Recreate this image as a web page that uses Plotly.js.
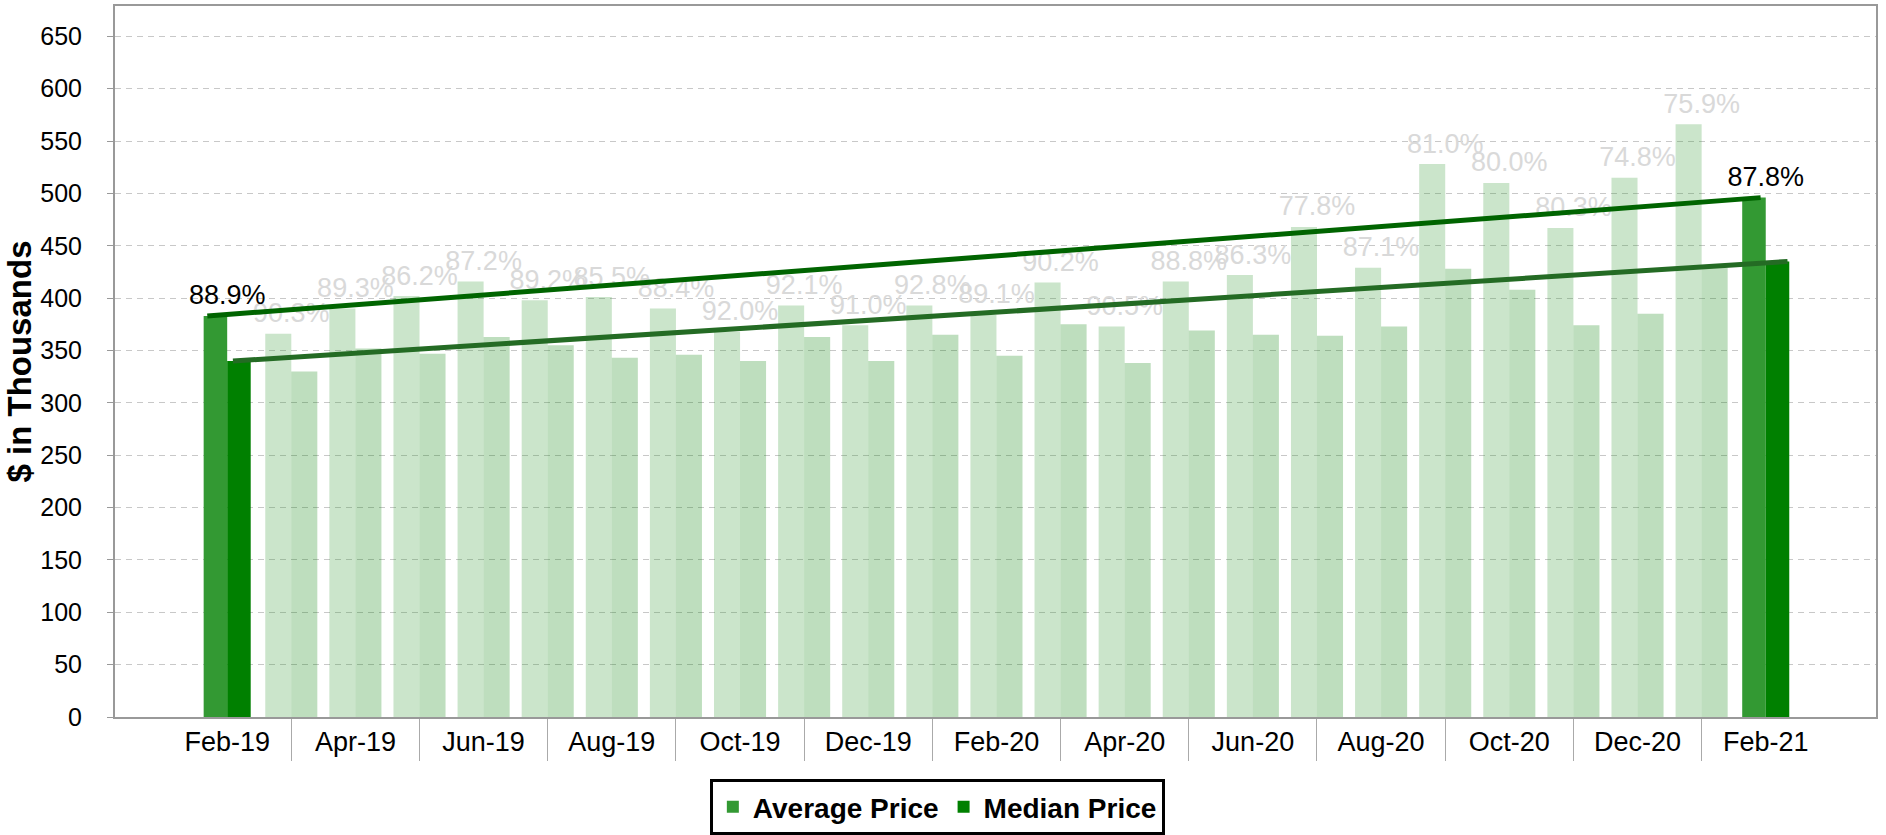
<!DOCTYPE html>
<html><head><meta charset="utf-8">
<script src="https://cdn.plot.ly/plotly-3.0.1.min.js"></script>
<style>html,body{margin:0;padding:0;background:#fff}#chart{width:1886px;height:835px}</style>
</head><body><div id="chart"></div>
<script>
const months = ['Feb-19','Mar-19','Apr-19','May-19','Jun-19','Jul-19','Aug-19','Sep-19','Oct-19','Nov-19','Dec-19','Jan-20',
  'Feb-20','Mar-20','Apr-20','May-20','Jun-20','Jul-20','Aug-20','Sep-20','Oct-20','Nov-20','Dec-20','Jan-21','Feb-21'];
const averagePrice = [383,366,390,402,416,398,401,390,368,393,374,393,384,415,373,416,422,468,429,528,510,467,515,566,496];
const medianPrice  = [340,330,352,347,363,355,343,346,340,363,340,365,345,375,338,369,365,364,373,428,408,374,385,429,435];
const ratioLabels  = ['88.9%','90.3%','89.3%','86.2%','87.2%','89.2%','85.5%','88.4%','92.0%','92.1%','91.0%','92.8%',
  '89.1%','90.2%','90.5%','88.8%','86.3%','77.8%','87.1%','81.0%','80.0%','80.3%','74.8%','75.9%','87.8%'];
const yTicks = [0,50,100,150,200,250,300,350,400,450,500,550,600,650];
const yTitle = '$ in Thousands';

const FONT = 'Liberation Sans, Arial, sans-serif';
const n = months.length;
const idx = months.map((m,i)=>i);
const hi = [0, n-1];
const lo = idx.filter(i => !hi.includes(i));
const pick = (arr, ids) => ids.map(i => arr[i]);

const wHi = 0.367, wLo = 0.406;
const traces = [
  {type:'bar', x:hi, y:pick(averagePrice,hi), name:'Average Price', width:wHi, offset:-wHi,
   marker:{color:'#339933'}, hoverinfo:'skip'},
  {type:'bar', x:hi, y:pick(medianPrice,hi), name:'Median Price', width:wHi, offset:0,
   marker:{color:'#008000'}, hoverinfo:'skip'},
  {type:'bar', x:lo, y:pick(averagePrice,lo), width:wLo, offset:-wLo, showlegend:false,
   marker:{color:'#339933'}, opacity:0.25, hoverinfo:'skip'},
  {type:'bar', x:lo, y:pick(medianPrice,lo), width:wLo, offset:0, showlegend:false,
   marker:{color:'#008000'}, opacity:0.25, hoverinfo:'skip'},
  {type:'scatter', mode:'markers+text', x:lo, y:pick(averagePrice,lo), text:pick(ratioLabels,lo),
   marker:{size:6, color:'rgba(0,0,0,0)'},
   textposition:'top center', textfont:{family:FONT, size:27, color:'#d9d9d9'}, showlegend:false, hoverinfo:'skip'},
  {type:'scatter', mode:'markers+text', x:hi, y:pick(averagePrice,hi), text:pick(ratioLabels,hi),
   marker:{size:6, color:'rgba(0,0,0,0)'},
   textposition:'top center', textfont:{family:FONT, size:27, color:'#000000'}, showlegend:false, hoverinfo:'skip'},
  {type:'scatter', mode:'lines', x:[hi[0]-0.31, hi[1]-0.08], y:pick(averagePrice,hi),
   line:{color:'#006400', width:5}, showlegend:false, hoverinfo:'skip'},
  {type:'scatter', mode:'lines', x:[hi[0]+0.09, hi[1]+0.34], y:pick(medianPrice,hi),
   line:{color:'#246b24', width:5}, showlegend:false, hoverinfo:'skip'}
];

const even = idx.filter(i => i % 2 === 0);
const odd = idx.filter(i => i % 2 === 1);

const layout = {
  width:1886, height:835,
  margin:{l:115, r:10, t:6, b:118},
  paper_bgcolor:'#ffffff', plot_bgcolor:'#ffffff',
  barmode:'overlay',
  showlegend:true,
  font:{family:FONT, color:'#000'},
  xaxis:{
    type:'linear', range:[-1.75, 25.72], fixedrange:true,
    tickmode:'array', tickvals:even, ticktext:pick(months, even),
    ticks:'', tickfont:{family:FONT, size:27, color:'#000'},
    showgrid:false, zeroline:false,
    showline:true, linecolor:'#999999', linewidth:2, mirror:true,
    minor:{tickmode:'array', tickvals:odd, ticks:'outside', ticklen:42, tickcolor:'#aaaaaa', tickwidth:1, showgrid:false}
  },
  yaxis:{
    range:[0, 679], fixedrange:true,
    tickmode:'array', tickvals:yTicks,
    ticks:'outside', ticklen:6, tickcolor:'#999999',
    tickfont:{family:FONT, size:25, color:'#000'},
    ticklabelstandoff:20,
    showgrid:true, gridcolor:'#c8c8c8', gridwidth:1, griddash:'6px,5px',
    zeroline:false,
    showline:true, linecolor:'#999999', linewidth:2, mirror:true
  },
  annotations:[{
    text:yTitle, textangle:-90, xref:'paper', yref:'paper', x:-0.0545, y:0.5,
    xanchor:'center', yanchor:'middle', showarrow:false,
    font:{family:FONT, size:33, color:'#000', weight:'bold'}
  }],
  legend:{
    orientation:'h', xref:'container', yref:'container',
    x:0.497, xanchor:'center', y:0.0335, yanchor:'middle',
    bordercolor:'#000000', borderwidth:3, bgcolor:'#ffffff',
    font:{family:FONT, size:28, color:'#000', weight:'bold'}
  }
};

Plotly.newPlot('chart', traces, layout, {displayModeBar:false, staticPlot:true});
</script>
</body></html>
